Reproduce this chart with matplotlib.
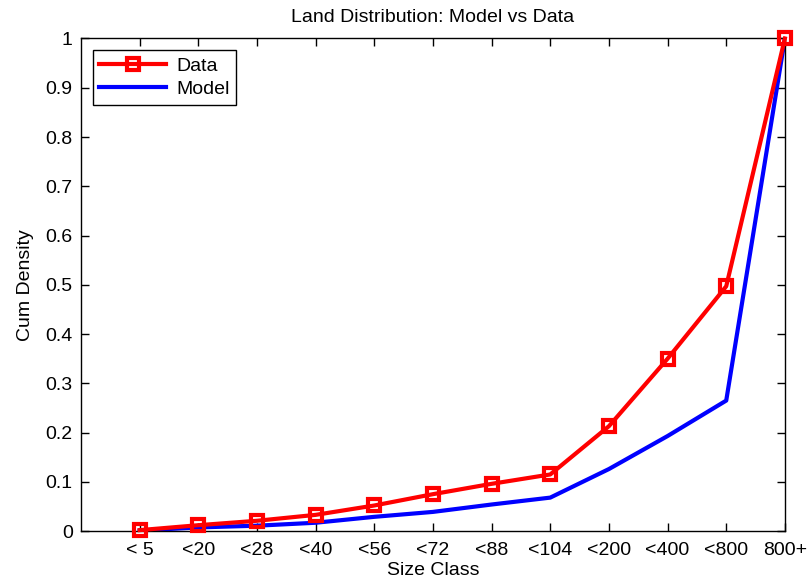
import numpy as np
import matplotlib.pyplot as plt

plt.rcParams['font.family'] = ['Liberation Sans', 'DejaVu Sans']

## size classes and cumulative densities
size_classes = ['< 5', '<20', '<28', '<40', '<56', '<72', '<88', '<104',
                '<200', '<400', '<800', '800+']
data_cum = [0.002, 0.012, 0.021, 0.033, 0.052, 0.075, 0.096, 0.115,
            0.213, 0.350, 0.497, 1.0]
model_cum = [0.001, 0.0075, 0.011, 0.017, 0.029, 0.039, 0.054, 0.068,
             0.126, 0.193, 0.265, 1.0]

x = np.arange(1, len(size_classes) + 1)

fig = plt.figure(figsize=(8.1, 5.83), dpi=100)
ax = fig.add_axes([0.100, 0.089, 0.869, 0.845])

ax.plot(x, data_cum, color='#ff0000', lw=3, marker='s', ms=9,
        mfc='none', mec='#ff0000', mew=3, label='Data', clip_on=False,
        zorder=3)
ax.plot(x, model_cum, color='#0000ff', lw=3, label='Model', zorder=2)

ax.set_xlim(0, 12)
ax.set_ylim(0, 1)
ax.set_xticks(x)
ax.set_xticklabels(size_classes)
ax.set_yticks(np.arange(0, 1.01, 0.1))
ax.set_yticklabels(['0', '0.1', '0.2', '0.3', '0.4', '0.5', '0.6',
                    '0.7', '0.8', '0.9', '1'])
ax.tick_params(direction='in', length=6, width=1, labelsize=14,
               top=True, right=True)
ax.tick_params(axis='x', pad=8)
ax.tick_params(axis='y', pad=6)
for s in ax.spines.values():
    s.set_linewidth(1)

ax.set_xlabel('Size Class', fontsize=14, labelpad=2)
ax.set_ylabel('Cum Density', fontsize=14, labelpad=8)
ax.set_title('Land Distribution: Model vs Data', fontsize=14, pad=12)

leg = ax.legend(loc='upper left', fontsize=14, fancybox=False,
                edgecolor='black', framealpha=1, borderpad=0.35,
                handlelength=3.4, handletextpad=0.55, labelspacing=0.3,
                borderaxespad=0.6)
leg.get_frame().set_linewidth(1)

fig.savefig('out.png', dpi=100)
